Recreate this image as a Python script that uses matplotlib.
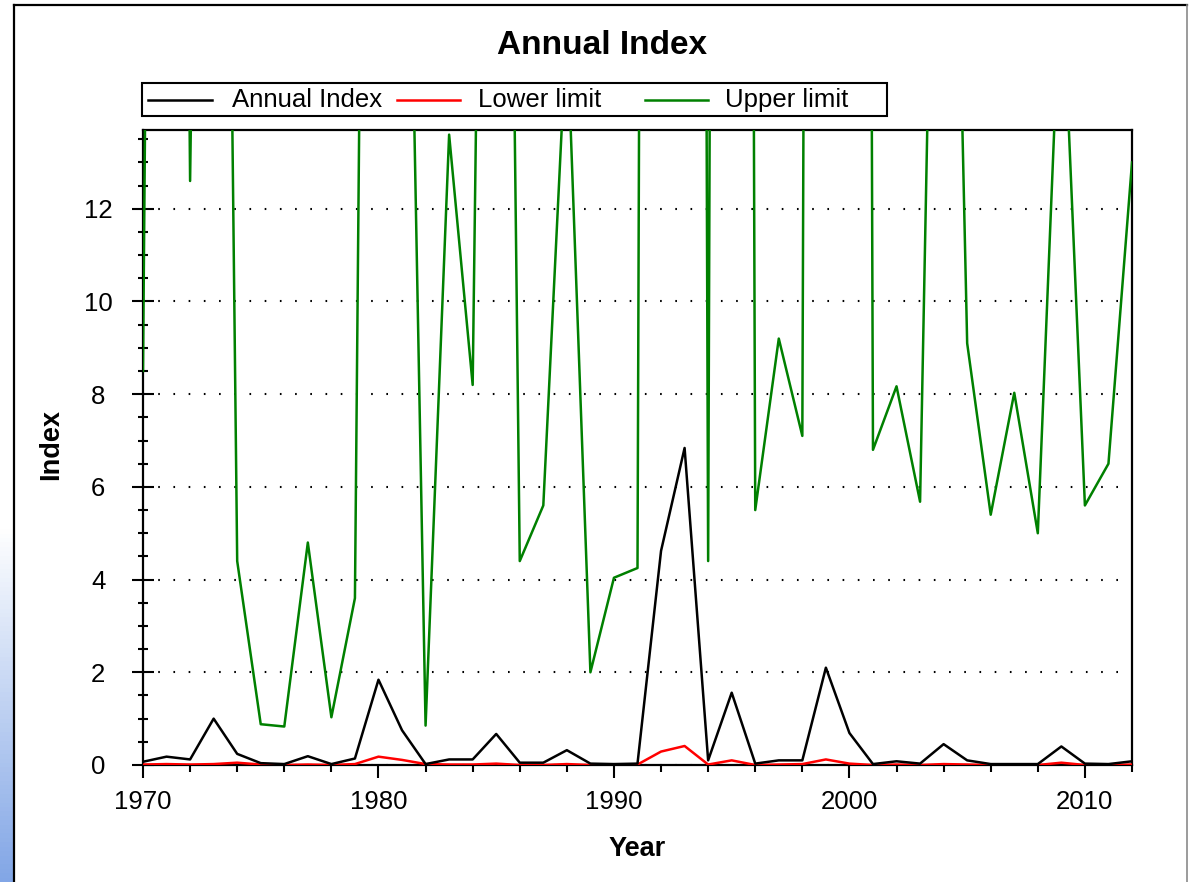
import numpy as np
import matplotlib
matplotlib.use("Agg")
import matplotlib.pyplot as plt
from matplotlib.lines import Line2D
from matplotlib.patches import Rectangle
from matplotlib.ticker import MultipleLocator

plt.rcParams['font.family'] = ['Liberation Sans', 'DejaVu Sans']

# ---------------- data ----------------
years = list(range(1970, 2013))
annual_index = [0.07, 0.18, 0.12, 1.00, 0.24, 0.04, 0.02, 0.19, 0.02, 0.14,
                1.84, 0.75, 0.02, 0.12, 0.12, 0.67, 0.05, 0.05, 0.32, 0.03,
                0.02, 0.03, 4.62, 6.84, 0.10, 1.56, 0.03, 0.10, 0.10, 2.10,
                0.69, 0.02, 0.08, 0.03, 0.45, 0.10, 0.02, 0.02, 0.02, 0.40,
                0.03, 0.02, 0.08]
lower_limit = [0.01, 0.02, 0.01, 0.02, 0.05, 0.01, 0.00, 0.01, 0.00, 0.02,
               0.18, 0.11, 0.02, 0.01, 0.01, 0.03, 0.00, 0.00, 0.02, 0.00,
               0.00, 0.01, 0.29, 0.41, 0.01, 0.10, 0.00, 0.01, 0.02, 0.12,
               0.03, 0.00, 0.01, 0.00, 0.02, 0.01, 0.00, 0.00, 0.00, 0.05,
               0.00, 0.00, 0.01]
upper_limit = [8.5, 70.0, 12.6, 50.0, 4.4, 0.88, 0.83, 4.8, 1.03, 3.6,
               60.0, 28.0, 0.85, 13.6, 8.2, 48.0, 4.4, 5.6, 16.0, 2.0,
               4.04, 4.25, 150.0, 150.0, 4.4, 150.0, 5.5, 9.2, 7.1, 150.0,
               150.0, 6.8, 8.17, 5.68, 32.0, 9.1, 5.4, 8.03, 5.0, 17.5,
               5.6, 6.5, 13.0]
series_names = ['Annual Index', 'Lower limit', 'Upper limit']
series_colors = ['black', '#ff0000', '#008000']
x_major_ticks = [1970, 1980, 1990, 2000, 2010]
y_major_ticks = [0, 2, 4, 6, 8, 10, 12]

# ---------------- layout helpers ----------------
W, H = 1192, 882
fig = plt.figure(figsize=(W / 100, H / 100), dpi=100)
fig.patch.set_facecolor('white')

def fx(px):
    return px / W

def fy(py):
    return 1 - py / H

# left blue gradient strip (screenshot background)
strip = fig.add_axes([0, 0, fx(14), 1], zorder=-10)
rows = np.linspace(0, 1, 200)
top_c = np.array([1.0, 1.0, 1.0])
bot_c = np.array([130, 166, 230]) / 255
t = np.clip((rows - 0.60) / 0.40, 0, 1)[:, None]
grad = (1 - t) * top_c + t * bot_c
strip.imshow(grad[:, None, :], aspect='auto', extent=[0, 1, 0, 1], origin='upper')
strip.axis('off')

# panel frame
fig.add_artist(Line2D([fx(14), fx(1187)], [fy(5), fy(5)], transform=fig.transFigure,
                      color='black', lw=1.6))
fig.add_artist(Line2D([fx(14), fx(14)], [fy(5), 0], transform=fig.transFigure,
                      color='black', lw=1.6))
fig.add_artist(Line2D([fx(1187), fx(1187)], [fy(5), 0], transform=fig.transFigure,
                      color='#8a8a8a', lw=1.2))

# ---------------- main axes ----------------
ax = fig.add_axes([fx(143), fy(765), fx(1132) - fx(143), fy(130) - fy(765)])

ax.plot(years, lower_limit, color=series_colors[1], lw=1.8, zorder=3)
ax.plot(years, upper_limit, color=series_colors[2], lw=1.8, zorder=3)
ax.plot(years, annual_index, color=series_colors[0], lw=1.8, zorder=4)

ax.set_xlim(1970, 2012)
ax.set_ylim(0, 13.7)

ax.set_xticks(x_major_ticks)
ax.set_xticklabels([str(v) for v in x_major_ticks])
ax.xaxis.set_minor_locator(MultipleLocator(2))
ax.set_yticks(y_major_ticks)
ax.set_yticklabels([str(v) for v in y_major_ticks])
ax.yaxis.set_minor_locator(MultipleLocator(0.5))

ax.tick_params(axis='x', which='major', direction='out', length=9, width=1.5,
               labelsize=18.5, pad=9)
ax.tick_params(axis='x', which='minor', direction='out', length=5, width=1.5)
ax.tick_params(axis='y', which='major', direction='inout', length=16.5, width=1.5,
               labelsize=18.5, pad=24)
ax.tick_params(axis='y', which='minor', direction='inout', length=7, width=1.5)
for lab in ax.get_yticklabels():
    lab.set_ha('center')

for sp in ax.spines.values():
    sp.set_linewidth(1.6)
    sp.set_color('black')

ax.yaxis.grid(True, which='major', linestyle=(0, (0.8, 6.5)), color='black',
              linewidth=1.5)
ax.set_axisbelow(True)

# ---------------- texts ----------------
fig.text(fx(602), fy(46), 'Annual Index', ha='center', va='center',
         fontsize=24, fontweight='bold')
fig.text(fx(637), fy(849), 'Year', ha='center', va='center',
         fontsize=19.5, fontweight='bold')
fig.text(fx(51), fy(444), 'Index', ha='center', va='center', rotation=90,
         fontsize=19.5, fontweight='bold')

# ---------------- legend (manual box like the original) ----------------
fig.add_artist(Rectangle((fx(142), fy(116)), fx(887) - fx(142), fy(83) - fy(116),
                         transform=fig.transFigure, facecolor='white',
                         edgecolor='black', lw=1.5, zorder=5))
line_x = [(148, 212), (397, 460), (645, 708)]
text_x = [232, 478, 725]
for (x0, x1), tx, name, col in zip(line_x, text_x, series_names, series_colors):
    fig.add_artist(Line2D([fx(x0), fx(x1)], [fy(100), fy(100)],
                          transform=fig.transFigure, color=col, lw=1.8, zorder=6))
    fig.text(fx(tx), fy(100), name, ha='left', va='center', fontsize=18.5, zorder=6)

fig.savefig('out.png', dpi=100)
